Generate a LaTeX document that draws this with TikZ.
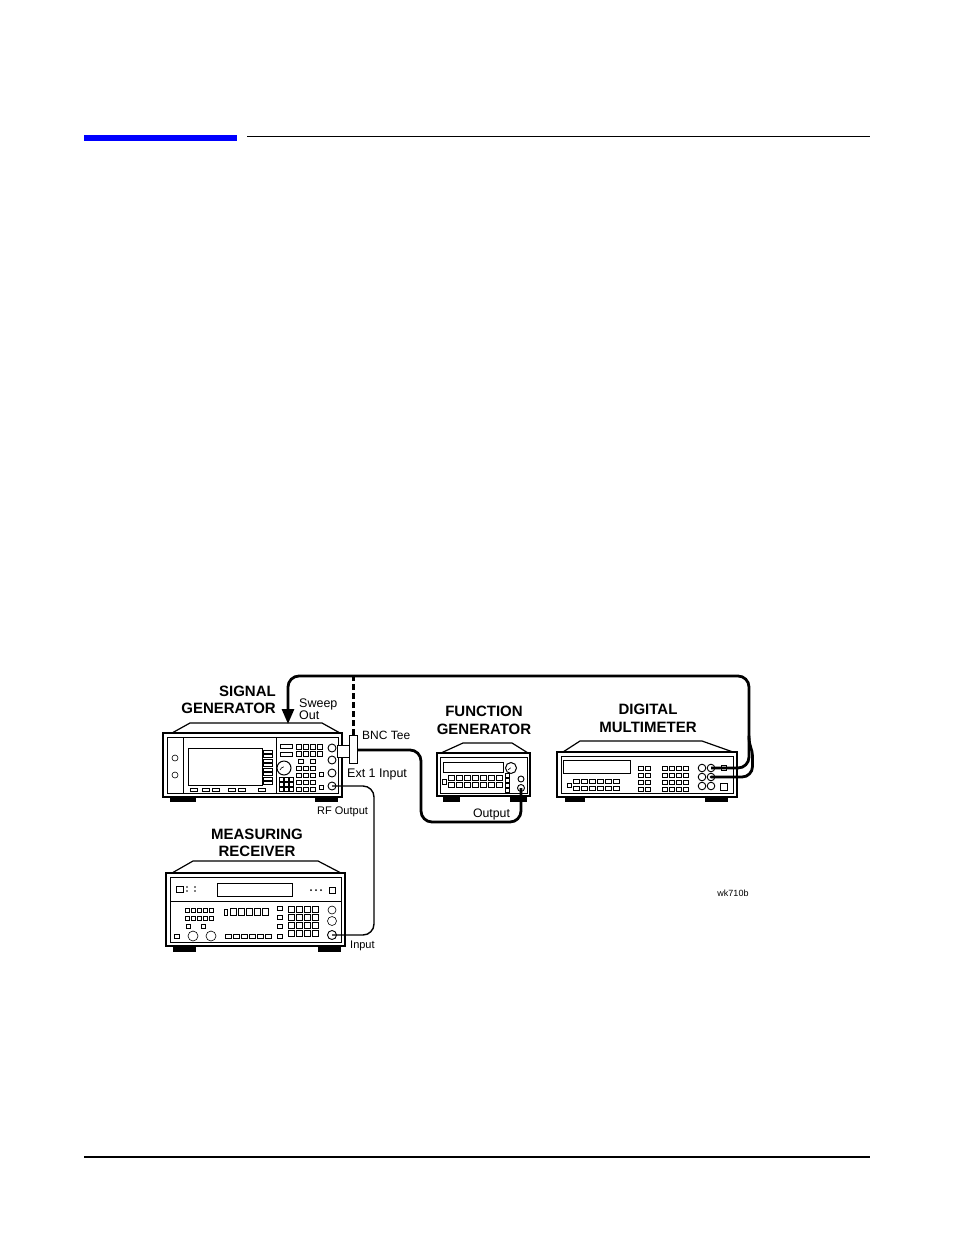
\documentclass[tikz,border=0pt]{standalone}
\usepackage{fontspec}
\setmainfont{Liberation Sans}
\usetikzlibrary{arrows.meta}
\tikzset{
  cable/.style={line width=2.8pt, rounded corners=11pt},
  thincable/.style={line width=1.4pt, rounded corners=11pt},
  dashcable/.style={line width=3pt, dash pattern=on 6pt off 3pt},
  case/.style={draw, line width=1.2pt, fill=white},
  btn/.style={draw, line width=0.6pt},
  port/.style={draw, line width=0.9pt, fill=white},
  namefont/.style={font=\bfseries\fontsize{15}{18}\selectfont, inner sep=0pt},
  portfont/.style={font=\fontsize{12.5}{15}\selectfont, inner sep=0pt},
}
\begin{document}
\begin{tikzpicture}[x=1pt,y=-1pt]
            \useasboundingbox (0,0) rectangle (954,1235);
            % Page rules
            \fill [blue] (84,135) rectangle (237,140.5);
            \draw [line width=1.8pt] (247,136.5) -- (870,136.5);
            \draw [line width=1.5pt] (84,1157) -- (870,1157);

            % Signal generator
            \fill (170,797) rectangle (196,802);
            \fill (315,797) rectangle (338,802);
            \draw [case] (172,733) -- (190,723) -- (322,723) -- (340,733);
            \draw [case] (163,733) rectangle (342,797);
            \draw [btn] (167,737) rectangle (338,793);
            \draw [btn] (183,737) -- (183,793);
            \draw [btn] (175,758) circle (3) (175,775) circle (3);
            \draw [btn] (188,748) rectangle (262,785);
            \foreach \y in {750,754.5,...,782} \draw [btn] (263,\y) rectangle (272,\y+3);
            \foreach \x in {190,202,212,228,238,258} \draw [btn] (\x,788) rectangle (\x+7,791);
            \draw [btn] (276,737) -- (276,793);
            \draw [btn] (280,744) rectangle (292,748) (280,752) rectangle (292,756);
            \foreach \x in {296,303,310,317} \foreach \y in {744,751} \draw [btn] (\x,\y) rectangle (\x+5.5,\y+5);
            \draw [btn] (298,759) rectangle (303,763) (310,759) rectangle (315,763);
            \draw [btn, line width=1pt] (284,768) circle (7);
            \draw [btn] (280,770) arc (200:260:5);
            \foreach \x in {279,284,289} \foreach \y in {777,782,787} \draw [btn] (\x,\y) rectangle (\x+4,\y+4);
            \foreach \x in {296,303,310} \foreach \y in {766,773,780,787} \draw [btn] (\x,\y) rectangle (\x+5.5,\y+4.5);
            \draw [btn] (319,772) rectangle (323,776) (319,785) rectangle (323,789);
            \foreach \y in {748,760,773} \draw [port] (332,\y) circle (4);
            \draw [port] (332,786) circle (4);
            \coordinate (sgext) at (332,748);
            \coordinate (sgrf) at (332,786);
            \coordinate (sgsweep) at (288,724);

            % Function generator
            \fill (443,796) rectangle (460,802);
            \fill (510,796) rectangle (527,802);
            \draw [case] (441,753) -- (463,743) -- (512,743) -- (528,753);
            \draw [case] (437,753) rectangle (530,796);
            \draw [btn] (440,757) rectangle (527,793);
            \draw [btn] (443,762) rectangle (503,772);
            \draw [btn, line width=1pt] (511,768) circle (5.5);
            \draw [btn] (508,770) arc (200:260:3.5);
            \foreach \x in {448,456,...,496} \foreach \y in {775,782} \draw [btn] (\x,\y) rectangle (\x+6.5,\y+5);
            \draw [btn] (442,779) rectangle (446,784);
            \foreach \y in {773,778,783,788} \draw [btn] (505,\y) rectangle (509,\y+4);
            \draw [port] (521,779) circle (3);
            \draw [port] (521,788) circle (3.5);
            \coordinate (fgout) at (521,788);

            % Digital multimeter
            \fill (565,797) rectangle (585,802);
            \fill (705,797) rectangle (728,802);
            \draw [case] (563,752) -- (580,741) -- (702,741) -- (733,752);
            \draw [case] (557,752) rectangle (737,797);
            \draw [btn] (561,756) rectangle (733,793);
            \draw [btn] (563,760) rectangle (630,773);
            \draw [btn] (567,783) rectangle (571,787);
            \foreach \x in {573,581,...,613} \foreach \y in {779,786} \draw [btn] (\x,\y) rectangle (\x+6.5,\y+4);
            \foreach \x in {638,645} \foreach \y in {766,773,780,787} \draw [btn] (\x,\y) rectangle (\x+5.5,\y+4);
            \foreach \x in {662,669,676,683} \foreach \y in {766,773,780,787} \draw [btn] (\x,\y) rectangle (\x+5.5,\y+4);
            \foreach \x in {702,711} \foreach \y in {768,777,786} \draw [port] (\x,\y) circle (3.8);
            \draw [btn] (721,765) rectangle (726,770);
            \draw [btn, line width=1pt] (720,783) rectangle (727,790);
            \coordinate (dmmhi) at (711,768);
            \coordinate (dmmlo) at (711,777);

            % Measuring receiver
            \fill (173,946) rectangle (196,952);
            \fill (318,946) rectangle (341,952);
            \draw [case] (172,873) -- (193,861) -- (318,861) -- (341,873);
            \draw [case] (166,873) rectangle (345,946);
            \draw [btn] (170,877) rectangle (341,942);
            \draw [btn] (170,901) -- (341,901);
            \draw [btn] (176,886) rectangle (183,892);
            \fill (187,887) circle (0.8) (187,891) circle (0.8) (195,887) circle (0.8) (195,891) circle (0.8);
            \draw [btn] (217,883) rectangle (292,896);
            \fill (311,890) circle (1) (316,890) circle (1) (321,890) circle (1);
            \draw [btn] (329,887) rectangle (335,893);
            \foreach \x in {185,191,...,209} \foreach \y in {908,916} \draw [btn] (\x,\y) rectangle (\x+4.5,\y+4);
            \draw [btn] (186,924) rectangle (190,928) (201,924) rectangle (205,928);
            \draw [btn] (174,934) rectangle (179,938);
            \draw [btn] (193,936) circle (5) (211,936) circle (5);
            \foreach \x in {225,233,...,265} \draw [btn] (\x,934) rectangle (\x+6,938);
            \draw [btn] (224,909) rectangle (227,915);
            \foreach \x in {230,238,...,262} \draw [btn] (\x,908) rectangle (\x+6.5,915);
            \foreach \y in {906,915,924,934} \draw [btn] (277,\y) rectangle (282,\y+4);
            \foreach \x in {288,296,304,312} \foreach \y in {906,914,922,930} \draw [btn] (\x,\y) rectangle (\x+6.5,\y+6.5);
            \draw [btn] (332,910) circle (4) (332,921) circle (4.5);
            \draw [port] (332,935) circle (4.5);
            \coordinate (mrin) at (332,935);

            % Cables
            \draw [cable, -{Triangle[length=15pt,width=12pt]}] (dmmhi) -- (749,768) -- (749,676) -- (288,676) -- (sgsweep);
            \draw [cable, rounded corners=0pt, line cap=round] (dmmlo) -- (742,777) arc (90:0:10.5) -- (752.5,756) .. controls (752.5,749) and (749,747) .. (749,736);
            \coordinate (teetop) at (353,735);
            \coordinate (dashtop) at (353,676);
            \draw [dashcable] (teetop) -- (dashtop);
            \coordinate (teeright) at (357,750);
            \draw [cable] (teeright) -- (421,750) -- (421,822) -- (521,822) -- (fgout);
            \draw [thincable] (sgrf) -- (374,786) -- (374,935) -- (mrin);

            % BNC tee
            \draw [port] (337,745) rectangle (350,757);
            \draw [port] (349,735) rectangle (357,763);

            % Labels
            \node [namefont, anchor=base east] (sgname) at (276,696.5) {SIGNAL};
            \node [namefont, anchor=base east] (sgname2) at (276,713) {GENERATOR};
            \node [namefont, anchor=base] (fgname) at (484,716.5) {FUNCTION};
            \node [namefont, anchor=base] (fgname2) at (484,734) {GENERATOR};
            \node [namefont, anchor=base] (dmmname) at (648,714) {DIGITAL};
            \node [namefont, anchor=base] (dmmname2) at (648,732) {MULTIMETER};
            \node [namefont, anchor=base] (mrname) at (257,839) {MEASURING};
            \node [namefont, anchor=base] (mrname2) at (257,856) {RECEIVER};
            \node [portfont, anchor=base west] (sweeplbl) at (299,707) {Sweep};
            \node [portfont, anchor=base west] (outlbl) at (299,719) {Out};
            \node [portfont, font=\fontsize{12}{14}\selectfont, anchor=base west] (teelbl) at (362,739.5) {BNC Tee};
            \node [portfont, anchor=base west] (extlbl) at (347,777) {Ext 1 Input};
            \node [portfont, font=\fontsize{11}{13}\selectfont, anchor=base west] (rflbl) at (317,814) {RF Output};
            \node [portfont, font=\fontsize{11}{13}\selectfont, anchor=base west] (inlbl) at (350,948) {Input};
            \node [portfont, font=\fontsize{12.3}{14}\selectfont, anchor=base] (fgoutlbl) at (491.5,817) {Output};
            \node [portfont, font=\fontsize{9}{11}\selectfont, anchor=base] (figid) at (733,896) {wk710b};
        \end{tikzpicture}
\end{document}
